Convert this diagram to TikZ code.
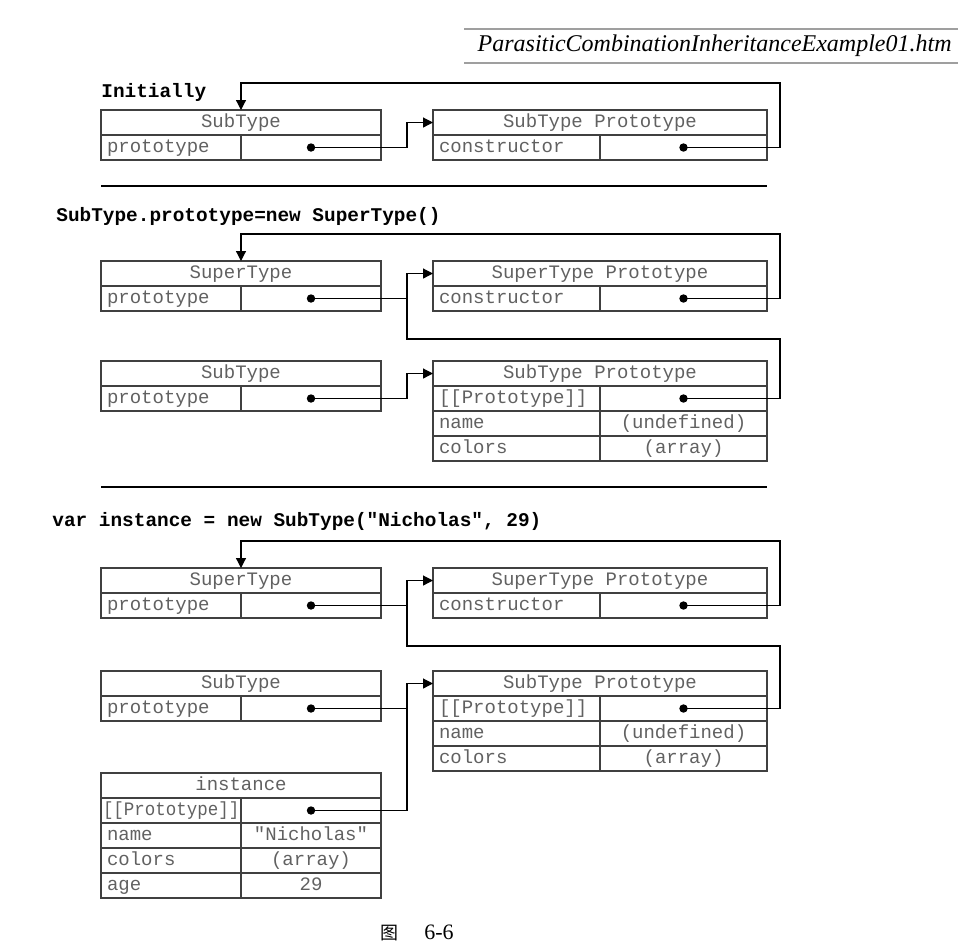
\documentclass[tikz,border=0pt]{standalone}
\usepackage{fontspec}
\setmainfont{Liberation Serif}
\setmonofont{Liberation Mono}
\newfontfamily\cjkfont{Noto Sans CJK SC}
\usetikzlibrary{positioning,arrows.meta}

\begin{document}
\begin{tikzpicture}[
  x=0.5pt, y=-0.5pt,
  cell/.style ={draw=black!75, line width=0.6pt, inner sep=0pt, outer sep=0pt,
                minimum height=12.5pt, text height=6.5pt, text depth=2pt,
                font=\fontsize{9.5}{11}\selectfont\ttfamily, text=black!62},
  lhead/.style={cell, minimum width=140pt},
  rhead/.style={cell, minimum width=167pt},
  lkey/.style ={cell, text width=64pt, inner xsep=3pt, align=left},
  lval/.style ={cell, minimum width=70pt},
  rkey/.style ={cell, text width=77.5pt, inner xsep=3pt, align=left},
  rval/.style ={cell, minimum width=83.5pt},
  stage/.style={anchor=west, inner sep=0pt,
                font=\fontsize{9.7}{11}\selectfont\ttfamily\bfseries},
  rule/.style ={line width=1pt},
  link/.style ={line width=0.6pt},
  arr/.style  ={link, -{Triangle[length=5pt,width=5pt]}}
]
\useasboundingbox (0,0) rectangle (964,950);

% file name banner
\draw[gray!75, line width=1pt] (464,29) -- (958,29);
\draw[gray!75, line width=1pt] (464,63) -- (958,63);
\node[anchor=east, inner sep=0pt, font=\fontsize{12}{14}\selectfont\itshape] (fname) at (952,46)
  {ParasiticCombinationInheritanceExample01.htm};

% initially
\node[stage] (stage1) at (101,92) {Initially};
\node[lhead, anchor=north west] (st1) at (101,110) {SubType};
\node[lkey, anchor=north west] (st1k) at (st1.south west) {prototype};
\node[lval, right=0pt of st1k] (st1v) {};
\node[rhead, right=26pt of st1] (sp1) {SubType Prototype};
\node[rkey, anchor=north west] (sp1k) at (sp1.south west) {constructor};
\node[rval, right=0pt of sp1k] (sp1v) {};

\draw[arr] (st1v.center) -| ([xshift=-13pt]sp1.west) -- (sp1.west);
\draw[arr] (sp1v.center) -| ([xshift=6.5pt,yshift=13.5pt]sp1.north east) -| (st1.north);

\draw[rule] (101,186) -- (767,186);

% SubType.prototype = new SuperType()
\node[stage] (stage2) at (56,216) {SubType.prototype=new SuperType()};
\node[lhead, anchor=north west] (su2) at (101,261) {SuperType};
\node[lkey, anchor=north west] (su2k) at (su2.south west) {prototype};
\node[lval, right=0pt of su2k] (su2v) {};
\node[rhead, right=26pt of su2] (up2) {SuperType Prototype};
\node[rkey, anchor=north west] (up2k) at (up2.south west) {constructor};
\node[rval, right=0pt of up2k] (up2v) {};

\node[lhead, anchor=north west] (st2) at (101,361) {SubType};
\node[lkey, anchor=north west] (st2k) at (st2.south west) {prototype};
\node[lval, right=0pt of st2k] (st2v) {};
\node[rhead, right=26pt of st2] (sp2) {SubType Prototype};
\node[rkey, anchor=north west] (sp2k1) at (sp2.south west) {[[Prototype]]};
\node[rval, right=0pt of sp2k1] (sp2v1) {};
\node[rkey, below=0pt of sp2k1] (sp2k2) {name};
\node[rval, right=0pt of sp2k2] (sp2v2) {(undefined)};
\node[rkey, below=0pt of sp2k2] (sp2k3) {colors};
\node[rval, right=0pt of sp2k3] (sp2v3) {(array)};

\draw[arr] (up2v.center) -| ([xshift=6.5pt,yshift=13.5pt]up2.north east) -| (su2.north);
\draw[link] (su2v.center) -- ([xshift=-13pt]up2k.west);
\draw[arr] (sp2v1.center) -| ([xshift=6.5pt,yshift=-14pt]up2v.south east)
  -| ([xshift=-13pt]up2.west) -- (up2.west);
\draw[arr] (st2v.center) -| ([xshift=-13pt]sp2.west) -- (sp2.west);

\draw[rule] (101,487) -- (767,487);

% var instance = new SubType(...)
\node[stage] (stage3) at (52,521) {var instance = new SubType("Nicholas", 29)};
\node[lhead, anchor=north west] (su3) at (101,568) {SuperType};
\node[lkey, anchor=north west] (su3k) at (su3.south west) {prototype};
\node[lval, right=0pt of su3k] (su3v) {};
\node[rhead, right=26pt of su3] (up3) {SuperType Prototype};
\node[rkey, anchor=north west] (up3k) at (up3.south west) {constructor};
\node[rval, right=0pt of up3k] (up3v) {};

\node[lhead, anchor=north west] (st3) at (101,671) {SubType};
\node[lkey, anchor=north west] (st3k) at (st3.south west) {prototype};
\node[lval, right=0pt of st3k] (st3v) {};
\node[rhead, right=26pt of st3] (sp3) {SubType Prototype};
\node[rkey, anchor=north west] (sp3k1) at (sp3.south west) {[[Prototype]]};
\node[rval, right=0pt of sp3k1] (sp3v1) {};
\node[rkey, below=0pt of sp3k1] (sp3k2) {name};
\node[rval, right=0pt of sp3k2] (sp3v2) {(undefined)};
\node[rkey, below=0pt of sp3k2] (sp3k3) {colors};
\node[rval, right=0pt of sp3k3] (sp3v3) {(array)};

\node[lhead, anchor=north west] (in3) at (101,773) {instance};
\node[lkey, anchor=north west, text width=68pt, inner xsep=1pt] (in3k1) at (in3.south west)
  {\scalebox{0.92}[1]{[[Prototype]]}};
\node[lval, right=0pt of in3k1] (in3v1) {};
\node[lkey, below=0pt of in3k1] (in3k2) {name};
\node[lval, right=0pt of in3k2] (in3v2) {"Nicholas"};
\node[lkey, below=0pt of in3k2] (in3k3) {colors};
\node[lval, right=0pt of in3k3] (in3v3) {(array)};
\node[lkey, below=0pt of in3k3] (in3k4) {age};
\node[lval, right=0pt of in3k4] (in3v4) {29};

\draw[arr] (up3v.center) -| ([xshift=6.5pt,yshift=13.5pt]up3.north east) -| (su3.north);
\draw[link] (su3v.center) -- ([xshift=-13pt]up3k.west);
\draw[arr] (sp3v1.center) -| ([xshift=6.5pt,yshift=-14pt]up3v.south east)
  -| ([xshift=-13pt]up3.west) -- (up3.west);
\draw[link] (st3v.center) -- ([xshift=-13pt]sp3k1.west);
\draw[arr] (in3v1.center) -| ([xshift=-13pt]sp3.west) -- (sp3.west);

% pointer dots
\foreach \d in {st1v,sp1v,su2v,up2v,st2v,sp2v1,su3v,up3v,st3v,sp3v1,in3v1}
  \fill (\d) circle (2.1pt);

\node[anchor=west, inner sep=0pt, font=\fontsize{11}{13}\selectfont] (caption) at (380,933)
  {{\cjkfont\fontsize{9}{11}\selectfont 图}\hspace{13pt}6-6};
\end{tikzpicture}
\end{document}
